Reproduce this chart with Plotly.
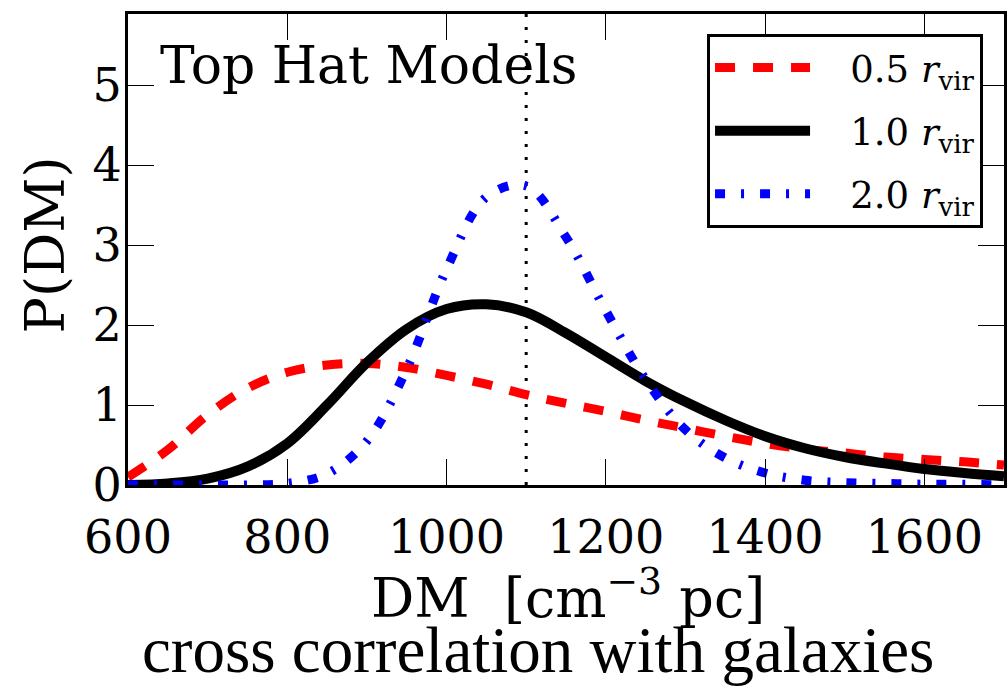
import plotly.graph_objects as go

# ---- data ----
DM = [600, 650, 700, 750, 800, 850, 900, 950, 1000, 1050, 1100, 1150,
      1200, 1250, 1300, 1350, 1400, 1450, 1500, 1550, 1600, 1650, 1700]

P_05 = [0.10, 0.44, 0.88, 1.21, 1.41, 1.50, 1.52, 1.47, 1.37, 1.26, 1.13, 1.02,
        0.92, 0.81, 0.71, 0.61, 0.52, 0.45, 0.40, 0.35, 0.32, 0.29, 0.25]

P_10 = [0.00, 0.02, 0.08, 0.23, 0.52, 1.00, 1.53, 1.95, 2.20, 2.26, 2.16, 1.90,
        1.60, 1.30, 1.04, 0.81, 0.61, 0.46, 0.35, 0.27, 0.20, 0.15, 0.11]

P_20 = [0.00, 0.00, 0.00, 0.00, 0.02, 0.14, 0.55, 1.45, 2.70, 3.60, 3.74, 3.10,
        2.18, 1.32, 0.69, 0.34, 0.15, 0.06, 0.03, 0.02, 0.01, 0.01, 0.00]

SERIES_NAMES = ["\u00a0\u00a0\u00a00.5 <i>r</i><sub>vir</sub>",
                "\u00a0\u00a0\u00a01.0 <i>r</i><sub>vir</sub>",
                "\u00a0\u00a0\u00a02.0 <i>r</i><sub>vir</sub>"]

VLINE_DM = 1100
X_RANGE = [600, 1700]
Y_RANGE = [0, 5.89]
X_TICKS = [600, 800, 1000, 1200, 1400, 1600]
Y_TICKS = [0, 1, 2, 3, 4, 5]

SERIF = "DejaVu Serif"

fig = go.Figure()

fig.add_trace(go.Scatter(
    x=DM, y=P_05, mode="lines", name=SERIES_NAMES[0], legendgroup="a",
    line=dict(color="#ff0000", width=9, dash="20px,18px", shape="spline", smoothing=1.0)))
fig.add_trace(go.Scatter(
    x=DM, y=P_10, mode="lines", name=SERIES_NAMES[1], legendgroup="b",
    line=dict(color="#000000", width=10, shape="spline", smoothing=1.0)))
fig.add_trace(go.Scatter(
    x=DM, y=P_20, mode="lines", name=SERIES_NAMES[2], legendgroup="c",
    line=dict(color="#0000ff", width=9, dash="10px,16px,3px,16px", shape="spline", smoothing=1.0)))

fig.add_shape(type="line", xref="x", yref="paper", x0=VLINE_DM, x1=VLINE_DM, y0=0, y1=1,
              line=dict(color="black", width=3, dash="3px,10px"), layer="below")

axis_common = dict(
    showline=True, linecolor="black", linewidth=3, mirror="ticks",
    ticks="inside", ticklen=26, tickwidth=1, tickcolor="black",
    showgrid=False, zeroline=False,
    tickfont=dict(family=SERIF, size=46, color="black"),
)

fig.update_xaxes(range=X_RANGE, tickvals=X_TICKS, ticklabelstandoff=10, **axis_common)
fig.update_yaxes(range=Y_RANGE, tickvals=Y_TICKS, ticklabelstandoff=-6, **axis_common)

fig.add_annotation(text="Top Hat Models", xref="paper", yref="paper", x=0.034, y=0.892,
                   xanchor="left", yanchor="middle", showarrow=False,
                   font=dict(family=SERIF, size=52, color="black"))
fig.add_annotation(text="DM  [cm<sup>−3</sup> pc]", xref="paper", yref="paper", x=0.502, y=-0.232,
                   xanchor="center", yanchor="middle", showarrow=False,
                   font=dict(family=SERIF, size=54, color="black"))
fig.add_annotation(text="cross correlation with galaxies", xref="paper", yref="paper",
                   x=0.468, y=-0.350, xanchor="center", yanchor="middle", showarrow=False,
                   font=dict(family="Liberation Serif", size=65, color="black"))
fig.add_annotation(text="P(DM)", xref="paper", yref="paper", x=-0.094, y=0.51,
                   xanchor="center", yanchor="middle", textangle=-90, showarrow=False,
                   font=dict(family=SERIF, size=54, color="black"))

fig.update_layout(
    width=1007, height=687,
    margin=dict(l=128, r=0, t=14, b=202),
    paper_bgcolor="white", plot_bgcolor="white",
    legend=dict(x=0.661, y=0.9575, xanchor="left", yanchor="top",
                bgcolor="white", bordercolor="black", borderwidth=3,
                font=dict(family=SERIF, size=37, color="black"),
                itemwidth=95, tracegroupgap=12),
)

fig.write_html("out.html")
